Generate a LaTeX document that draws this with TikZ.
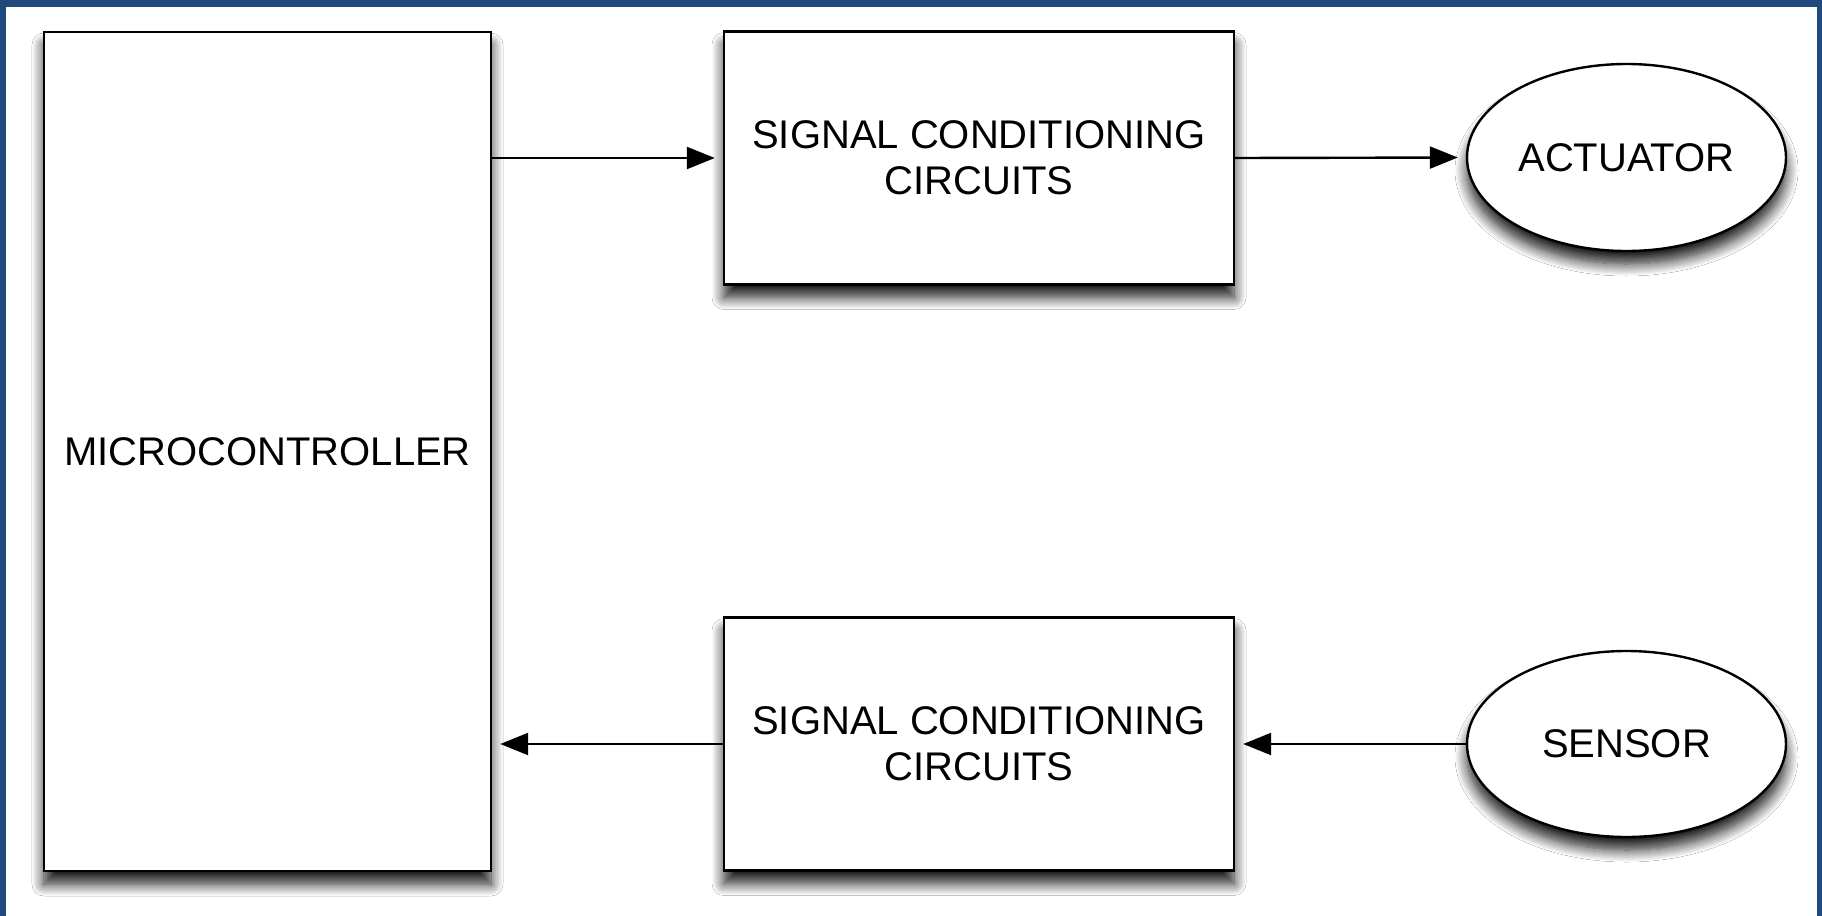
\documentclass[tikz,border=0pt]{standalone}
\usepackage{fontspec}
\setmainfont{Liberation Sans}
\usetikzlibrary{arrows.meta,shapes.geometric,shadows.blur}
\definecolor{frameblue}{RGB}{32,73,125}
\tikzset{
  blk/.style={draw=black, line width=1.2pt, fill=white, inner sep=0pt,
    align=center, font=\fontsize{20}{23}\selectfont,
    blur shadow={shadow xshift=0pt, shadow yshift=-6.5pt, shadow blur radius=6pt, shadow opacity=90, shadow blur steps=12}},
  boxnode/.style={blk, rectangle},
  ovalnode/.style={blk, ellipse},
  conn/.style={line width=1.2pt, -{Triangle[length=14pt,width=11pt]}, shorten >=4pt}
}
\begin{document}
\begin{tikzpicture}[x=0.5pt,y=-0.5pt]
\useasboundingbox (0,0) rectangle (1822,916);
\fill[frameblue] (0,0) rectangle (1822,916);
\fill[white] (6,7) rectangle (1817,916);

\node[boxnode, minimum width=223.5pt, minimum height=419.5pt] (micro) at (267.5,451.5) {MICROCONTROLLER};
\node[boxnode, minimum width=255pt, minimum height=126.5pt] (scc1) at (979,158) {SIGNAL CONDITIONING\\CIRCUITS};
\node[boxnode, minimum width=255pt, minimum height=126.5pt] (scc2) at (979,744) {SIGNAL CONDITIONING\\CIRCUITS};
\node[ovalnode, minimum width=159.5pt, minimum height=93.5pt] (act) at (1626.5,157.5) {ACTUATOR};
\node[ovalnode, minimum width=159.5pt, minimum height=93pt] (sen) at (1626.5,744) {SENSOR};

\draw[conn] (scc1.west -| micro.east) -- (scc1.west);
\draw[conn] (scc1.east) -- (act.west);
\draw[conn] (sen.west) -- (scc2.east);
\draw[conn] (scc2.west) -- (scc2.west -| micro.east);
\end{tikzpicture}
\end{document}
